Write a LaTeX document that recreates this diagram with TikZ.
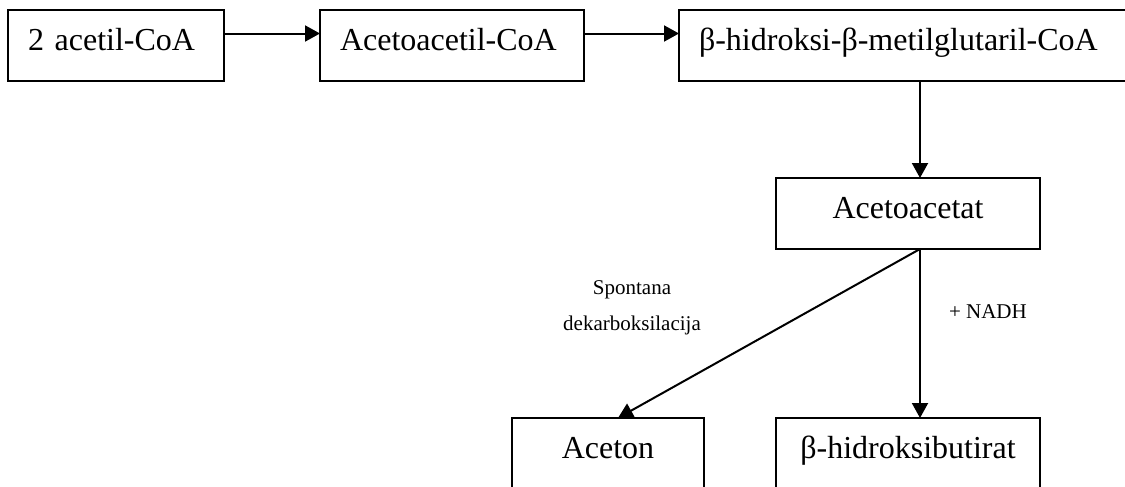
\documentclass[tikz,border=0pt]{standalone}
\usepackage{fontspec}
\setmainfont{Liberation Serif}
\usetikzlibrary{arrows.meta}

\begin{document}
\begin{tikzpicture}[x=0.5pt, y=-0.5pt,
                    box_style/.style={rectangle, draw=black, line width=1pt, outer sep=0pt,
                                      inner ysep=0pt, text height=20pt, text depth=15.5pt,
                                      font=\fontsize{16}{19}\selectfont},
                    left_box/.style={box_style, inner xsep=10pt, align=left},
                    note_style/.style={font=\fontsize{10.5}{18}\selectfont, align=center},
                    edge_style/.style={draw=black, line width=1pt, -{Triangle[length=7.5pt, width=8pt]}}]
                    \clip[use as bounding box] (0, 0) rectangle (1125, 487);
                    \node[left_box, text width=88pt, anchor=north west] (acoa) at (8, 10) {2 acetil-CoA};
                    \node[left_box, text width=112pt, anchor=north west] (aacoa) at (320, 10) {Acetoacetil-CoA};
                    \node[left_box, text width=210pt, anchor=north west] (hmg) at (679, 10) {β-hidroksi-β-metilglutaril-CoA};
                    \node[box_style, minimum width=132pt, anchor=north west] (acac) at (776, 178) {Acetoacetat};
                    \node[box_style, minimum width=96pt, anchor=north west] (aceton) at (512, 418) {Aceton};
                    \node[box_style, minimum width=132pt, anchor=north west] (hbut) at (776, 418) {β-hidroksibutirat};
                    \node[note_style] (spont) at (632, 308) {Spontana\\dekarboksilacija};
                    \node[note_style, anchor=base west] (nadh) at (942, 318) {+ NADH};
                    \draw[edge_style] ([yshift=6pt]acoa.east) -- ([yshift=6pt]aacoa.west);
                    \draw[edge_style] ([yshift=6pt]aacoa.east) -- ([yshift=6pt]hmg.west);
                    \draw[edge_style] ([xshift=6pt]acac.north |- hmg.south) -- ([xshift=6pt]acac.north);
                    \draw[edge_style] ([xshift=6pt]acac.south) -- ([xshift=5pt]aceton.north);
                    \draw[edge_style] ([xshift=6pt]acac.south) -- ([xshift=6pt]hbut.north);
                \end{tikzpicture}
\end{document}
